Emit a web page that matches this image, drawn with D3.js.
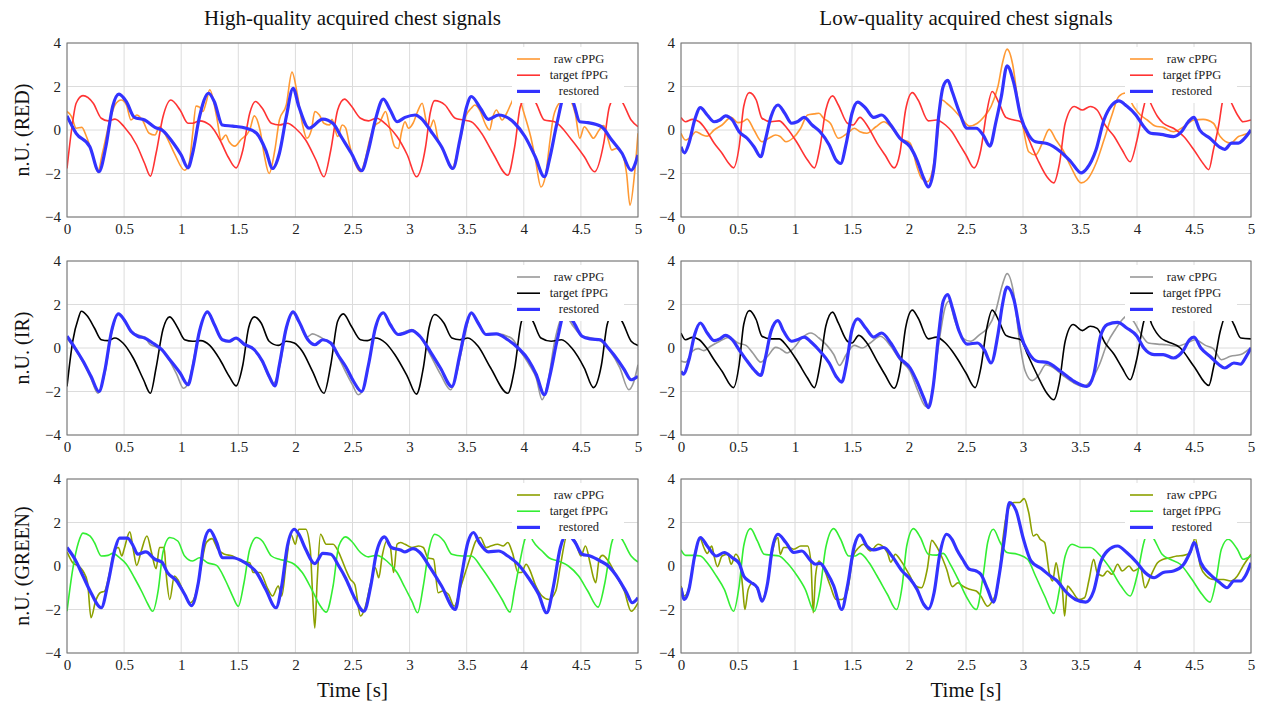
<!DOCTYPE html>
<html>
<head>
<meta charset="utf-8">
<script src="https://cdn.jsdelivr.net/npm/d3@7"></script>
<style>
  body { margin: 0; background: #fff; }
  svg { font-family: "Liberation Serif", "DejaVu Serif", serif; }
</style>
</head>
<body>
<svg id="chart" width="1268" height="705"></svg>
<script>
// titles, labels and ticks
const colTitles = ["High-quality acquired chest signals", "Low-quality acquired chest signals"];
const rowNames = ["n.U. (RED)", "n.U. (IR)", "n.U. (GREEN)"];
const legendLabels = ["raw cPPG", "target fPPG", "restored"];
const xTicks = [0, 0.5, 1, 1.5, 2, 2.5, 3, 3.5, 4, 4.5, 5];
const yTicks = [-4, -2, 0, 2, 4];

// series: [time s, value n.U.]
const redHqRaw = [[0,0.85],[0.04,0.62],[0.08,0.08],[0.13,0.12],[0.17,-0.3],[0.23,-1.23],[0.27,-1.92],[0.31,-1.07],[0.37,0.31],[0.42,1.15],[0.475,1.38],[0.52,1.15],[0.56,0.46],[0.61,0.69],[0.66,0.46],[0.72,-0.15],[0.77,-0.23],[0.81,0.15],[0.87,-0.3],[0.94,-1.07],[1.03,-1.85],[1.07,-1.5],[1.10,-0.2],[1.13,1.1],[1.16,1.05],[1.19,0.85],[1.22,1.3],[1.25,1.85],[1.31,0.62],[1.35,-0.46],[1.39,-0.23],[1.42,-0.54],[1.47,-0.74],[1.52,-0.46],[1.60,0],[1.64,0.65],[1.69,0],[1.73,-1.23],[1.77,-2.0],[1.82,-0.92],[1.86,0.46],[1.92,1.15],[1.97,2.66],[2.02,1.54],[2.06,0.31],[2.10,-0.38],[2.14,0],[2.17,0.85],[2.21,0.69],[2.25,0.31],[2.30,0.23],[2.32,0.49],[2.37,-0.3],[2.41,0.23],[2.44,0.1],[2.47,-0.6],[2.52,-1.5],[2.57,-1.92],[2.61,-1.38],[2.65,-0.46],[2.70,0.23],[2.74,0.38],[2.79,0.85],[2.83,0],[2.87,-0.77],[2.90,-0.85],[2.93,-0.08],[2.96,0.38],[2.99,0.08],[3.03,0.31],[3.07,0.85],[3.11,1.23],[3.15,0.31],[3.18,0.12],[3.21,0.46],[3.25,-0.46],[3.31,-1.07],[3.37,-1.77],[3.43,-0.77],[3.49,0.62],[3.54,1.0],[3.57,1.15],[3.62,0.85],[3.66,0.31],[3.70,0],[3.73,0.62],[3.76,0.92],[3.81,0.46],[3.85,0.77],[3.89,1.23],[3.94,1.7],[4.0,0.8],[4.06,-0.3],[4.10,-1.3],[4.15,-2.62],[4.19,-2.1],[4.23,-0.46],[4.26,0.62],[4.32,1.3],[4.38,1.5],[4.45,0.77],[4.49,-0.38],[4.53,0.15],[4.57,-0.1],[4.61,-0.38],[4.66,0],[4.70,0.2],[4.74,-0.46],[4.77,-0.92],[4.81,-0.85],[4.86,-1.07],[4.90,-2.0],[4.93,-3.46],[4.97,-2.0],[5.0,-0.15]];
const redHqTarget = [[0,-1.77],[0.04,0],[0.08,1.23],[0.14,1.58],[0.23,1.23],[0.30,0.54],[0.36,0.42],[0.42,0.5],[0.50,0.15],[0.61,-0.69],[0.68,-1.54],[0.73,-2.12],[0.78,-1.07],[0.84,0.6],[0.91,1.38],[0.99,0.92],[1.06,0.31],[1.10,0.31],[1.16,0.42],[1.25,0.23],[1.34,-0.46],[1.41,-1.23],[1.48,-1.74],[1.54,-0.92],[1.60,0.77],[1.65,1.31],[1.71,1.0],[1.79,0.31],[1.86,0.23],[1.93,0.31],[2.0,0.08],[2.09,-0.46],[2.18,-1.38],[2.25,-2.15],[2.31,-0.92],[2.37,0.92],[2.43,1.42],[2.49,1.1],[2.57,0.54],[2.64,0.42],[2.71,0.54],[2.80,0.23],[2.89,-0.3],[2.98,-1.15],[3.06,-2.15],[3.14,-0.77],[3.18,0.77],[3.22,1.35],[3.31,1.15],[3.40,0.54],[3.47,0.46],[3.54,0.38],[3.63,-0.15],[3.73,-1.07],[3.86,-2.08],[3.92,-0.77],[3.97,1.08],[4.03,1.55],[4.10,1.3],[4.18,0.46],[4.27,0.38],[4.42,-0.46],[4.53,-1.23],[4.62,-1.92],[4.70,-0.6],[4.75,1.08],[4.80,1.5],[4.86,1.3],[4.94,0.46],[5.0,0.15]];
const redHqRestored = [[0,0.65],[0.08,-0.15],[0.2,-0.77],[0.28,-1.92],[0.34,-0.77],[0.40,1.08],[0.455,1.65],[0.52,1.3],[0.59,0.58],[0.68,0.46],[0.77,0.12],[0.84,-0.03],[0.93,-0.6],[1.0,-1.15],[1.06,-1.74],[1.10,-1.07],[1.16,0.6],[1.24,1.69],[1.29,1.3],[1.36,0.23],[1.45,0.18],[1.57,0.08],[1.66,-0.15],[1.74,-0.92],[1.80,-1.77],[1.86,-1.07],[1.92,0.6],[1.98,1.92],[2.03,1.08],[2.12,0.08],[2.24,0.5],[2.33,0.3],[2.40,-0.3],[2.49,-1.07],[2.58,-1.87],[2.64,-0.92],[2.70,0.46],[2.77,1.42],[2.83,0.92],[2.89,0.38],[2.96,0.58],[3.05,0.69],[3.10,0.54],[3.19,-0.08],[3.28,-0.77],[3.38,-1.77],[3.44,-0.46],[3.50,1.08],[3.54,1.54],[3.62,1.0],[3.69,0.49],[3.78,0.69],[3.92,0.31],[4.01,-0.3],[4.10,-1.23],[4.18,-2.15],[4.23,-1.23],[4.29,0.3],[4.36,1.6],[4.43,1.3],[4.49,0.38],[4.56,0.34],[4.68,0.15],[4.77,-0.46],[4.86,-1.07],[4.94,-1.85],[5.0,-1.15]];

const redLqRaw = [[0,-0.15],[0.04,-0.46],[0.09,-0.3],[0.13,-0.08],[0.19,-0.23],[0.23,-0.28],[0.29,0],[0.36,0.23],[0.44,0.58],[0.50,0.34],[0.54,0.38],[0.58,0.5],[0.64,0],[0.71,-0.54],[0.77,-0.38],[0.83,-0.23],[0.87,-0.3],[0.92,-0.54],[0.98,-0.38],[1.05,0.08],[1.11,0.69],[1.17,0.74],[1.21,0.77],[1.25,0.54],[1.31,0.31],[1.38,-0.38],[1.46,-0.15],[1.52,0.08],[1.57,-0.08],[1.63,-0.15],[1.71,0.15],[1.78,0.38],[1.84,0.15],[1.92,-0.38],[2.01,-0.6],[2.07,-1.69],[2.11,-2.23],[2.16,-2.38],[2.20,-2.0],[2.24,-0.77],[2.29,1.38],[2.33,1.23],[2.38,1.0],[2.46,0.54],[2.53,0.18],[2.60,0.31],[2.66,0.62],[2.72,1.08],[2.78,2.0],[2.82,3.08],[2.86,3.72],[2.91,3.0],[2.95,1.54],[3.0,0.15],[3.05,-1.0],[3.11,-1.15],[3.17,-0.6],[3.23,0.03],[3.29,-0.46],[3.35,-0.92],[3.42,-1.69],[3.51,-2.43],[3.56,-2.3],[3.64,-1.54],[3.71,-0.46],[3.78,0.69],[3.84,1.54],[3.90,1.7],[3.97,1.08],[4.03,0.69],[4.09,0.46],[4.16,0.18],[4.23,0.12],[4.32,-0.08],[4.41,0.15],[4.50,0.46],[4.58,0.49],[4.67,0.31],[4.73,-0.3],[4.82,-0.6],[4.89,-0.3],[4.95,-0.2],[5.0,-0.08]];
const redLqTarget = [[0,0.58],[0.04,0.38],[0.10,0.49],[0.16,0.38],[0.22,0],[0.29,-0.6],[0.36,-1.07],[0.42,-1.54],[0.46,-1.74],[0.51,-0.77],[0.55,1.08],[0.60,1.72],[0.66,1.38],[0.71,0.54],[0.79,0.38],[0.86,0.42],[0.93,0.08],[1.02,-0.6],[1.11,-1.38],[1.17,-1.74],[1.22,-0.77],[1.27,0.92],[1.33,1.57],[1.38,1.15],[1.46,0.31],[1.51,0.23],[1.57,0.58],[1.63,0.23],[1.72,-0.6],[1.79,-1.15],[1.87,-1.74],[1.92,-1.07],[1.97,0.92],[2.03,1.72],[2.08,1.38],[2.17,0.42],[2.24,0.46],[2.32,0.23],[2.38,-0.1],[2.43,-0.54],[2.5,-1.15],[2.57,-1.74],[2.63,-0.92],[2.68,0.77],[2.73,1.77],[2.79,1.23],[2.85,0.58],[2.92,0.46],[2.98,0.38],[3.04,-0.3],[3.13,-1.38],[3.21,-2.15],[3.27,-2.43],[3.32,-1.54],[3.37,0.31],[3.45,1.08],[3.52,0.92],[3.59,1.08],[3.65,0.92],[3.72,0.23],[3.80,-0.3],[3.87,-0.92],[3.94,-1.46],[4.0,-0.46],[4.06,1.08],[4.09,1.6],[4.12,1.23],[4.18,0.62],[4.23,0.31],[4.32,0.08],[4.41,-0.3],[4.50,-0.92],[4.58,-1.54],[4.63,-1.82],[4.67,-0.92],[4.72,0.31],[4.75,1.3],[4.79,1.7],[4.83,1.23],[4.89,0.62],[4.93,0.38],[5.0,0.46]];
const redLqRestored = [[0,-0.77],[0.03,-1.05],[0.07,-0.6],[0.12,0.46],[0.17,1.03],[0.23,0.69],[0.29,0.38],[0.34,0.46],[0.39,0.65],[0.45,0.46],[0.51,-0.08],[0.58,-0.38],[0.64,-0.77],[0.70,-1.23],[0.74,-0.46],[0.79,0.62],[0.85,1.15],[0.91,0.77],[0.97,0.31],[1.02,0.38],[1.08,0.58],[1.15,0.23],[1.22,-0.08],[1.30,-0.69],[1.36,-1.38],[1.40,-1.54],[1.45,-0.6],[1.50,0.77],[1.55,1.28],[1.62,1.0],[1.69,0.58],[1.76,0.69],[1.84,0.23],[1.92,-0.38],[2.01,-0.77],[2.07,-1.38],[2.13,-2.23],[2.17,-2.62],[2.22,-1.69],[2.26,0.62],[2.30,2.0],[2.34,2.28],[2.38,1.75],[2.44,0.85],[2.51,0.08],[2.59,0.08],[2.65,-0.23],[2.71,-0.74],[2.76,0.31],[2.81,1.54],[2.86,2.95],[2.92,2.15],[2.98,0.62],[3.05,-0.23],[3.11,-0.54],[3.21,-0.62],[3.33,-1.0],[3.42,-1.46],[3.51,-1.97],[3.56,-1.77],[3.64,-0.92],[3.71,0.46],[3.78,1.15],[3.84,1.34],[3.91,1.1],[3.99,0.69],[4.06,0.15],[4.12,-0.15],[4.21,-0.2],[4.32,-0.3],[4.39,-0.08],[4.45,0.38],[4.50,0.58],[4.55,0],[4.64,-0.38],[4.72,-0.77],[4.77,-0.89],[4.83,-0.6],[4.89,-0.6],[4.93,-0.46],[5.0,0]];

const irHqRaw = [[0,0.45],[0.07,-0.05],[0.14,-0.65],[0.21,-1.4],[0.27,-2.08],[0.33,-1.2],[0.39,0.7],[0.45,1.55],[0.50,1.3],[0.56,0.75],[0.62,0.6],[0.68,0.5],[0.73,0.15],[0.78,0.05],[0.83,-0.05],[0.90,-0.6],[0.96,-1.2],[1.02,-1.85],[1.07,-1.5],[1.11,-0.5],[1.16,0.8],[1.23,1.62],[1.29,1.05],[1.36,0.4],[1.42,0.28],[1.48,0.42],[1.55,0.15],[1.64,-0.1],[1.71,-0.65],[1.77,-1.35],[1.81,-1.62],[1.86,-0.9],[1.92,0.85],[1.98,1.6],[2.03,1.2],[2.10,0.5],[2.15,0.65],[2.20,0.55],[2.25,0.4],[2.31,0.2],[2.38,-0.45],[2.44,-1.1],[2.50,-1.7],[2.55,-2.15],[2.60,-1.8],[2.64,-0.8],[2.70,0.9],[2.77,1.6],[2.83,1.05],[2.90,0.6],[2.96,0.75],[3.02,0.85],[3.09,0.55],[3.18,-0.3],[3.27,-1.2],[3.36,-1.92],[3.42,-1.0],[3.48,0.5],[3.54,1.58],[3.61,1.1],[3.67,0.6],[3.76,0.65],[3.89,0.46],[3.97,-0.15],[4.05,-0.8],[4.11,-1.4],[4.16,-2.38],[4.21,-1.6],[4.27,0.3],[4.35,1.55],[4.44,0.95],[4.51,0.55],[4.60,0.45],[4.68,0.3],[4.75,-0.1],[4.84,-0.9],[4.92,-1.92],[4.96,-1.6],[5.0,-0.77]];
const irHqTarget = [[0,-1.77],[0.05,0.31],[0.10,1.38],[0.125,1.69],[0.18,1.46],[0.24,0.92],[0.30,0.38],[0.36,0.34],[0.42,0.46],[0.49,0.23],[0.58,-0.46],[0.67,-1.46],[0.73,-2.08],[0.78,-0.92],[0.84,0.85],[0.90,1.43],[0.97,0.92],[1.03,0.38],[1.10,0.31],[1.17,0.34],[1.25,0.12],[1.34,-0.54],[1.42,-1.3],[1.48,-1.74],[1.54,-0.77],[1.59,0.92],[1.64,1.43],[1.70,1.15],[1.77,0.31],[1.85,0.12],[1.92,0.31],[1.99,0.23],[2.06,-0.15],[2.15,-1.07],[2.25,-2.08],[2.31,-0.77],[2.37,1.23],[2.42,1.57],[2.49,1.0],[2.57,0.38],[2.63,0.34],[2.70,0.46],[2.79,0.23],[2.87,-0.3],[2.98,-1.3],[3.06,-2.12],[3.12,-0.92],[3.17,0.92],[3.22,1.54],[3.30,1.15],[3.37,0.46],[3.44,0.38],[3.51,0.46],[3.60,0.08],[3.71,-0.92],[3.86,-2.08],[3.92,-0.92],[3.98,1.23],[4.03,1.6],[4.08,1.23],[4.15,0.46],[4.24,0.31],[4.33,0.38],[4.42,0],[4.53,-0.92],[4.61,-1.82],[4.68,-0.77],[4.73,1.08],[4.78,1.6],[4.86,1.23],[4.94,0.31],[5.0,0.12]];
const irHqRestored = [[0,0.54],[0.07,0],[0.14,-0.6],[0.21,-1.3],[0.28,-2.0],[0.33,-1.07],[0.39,0.77],[0.45,1.57],[0.50,1.3],[0.56,0.77],[0.62,0.54],[0.68,0.46],[0.75,0.23],[0.83,-0.08],[0.90,-0.54],[0.99,-1.15],[1.06,-1.69],[1.10,-0.92],[1.16,0.77],[1.23,1.66],[1.29,1.08],[1.36,0.38],[1.42,0.31],[1.48,0.46],[1.55,0.18],[1.64,-0.08],[1.71,-0.6],[1.77,-1.3],[1.82,-1.74],[1.86,-0.77],[1.92,0.92],[1.98,1.66],[2.03,1.23],[2.11,0.38],[2.17,0.15],[2.24,0.38],[2.31,0.23],[2.38,-0.38],[2.44,-0.85],[2.51,-1.54],[2.58,-2.0],[2.64,-0.77],[2.70,0.92],[2.77,1.62],[2.83,1.08],[2.90,0.62],[2.96,0.69],[3.02,0.8],[3.09,0.54],[3.18,-0.15],[3.27,-0.92],[3.37,-1.77],[3.44,-0.3],[3.50,1.15],[3.54,1.62],[3.60,1.15],[3.67,0.62],[3.76,0.65],[3.86,0.38],[3.95,0],[4.04,-0.54],[4.11,-1.23],[4.18,-2.15],[4.23,-1.23],[4.29,0.31],[4.36,1.6],[4.43,1.23],[4.51,0.54],[4.58,0.42],[4.67,0.38],[4.74,0],[4.83,-0.6],[4.88,-1.0],[4.94,-1.46],[5.0,-1.3]];

const irLqRaw = [[0,-0.6],[0.04,-0.65],[0.10,-0.15],[0.15,-0.03],[0.20,-0.12],[0.26,0.08],[0.34,0.31],[0.42,0.49],[0.50,0.23],[0.57,0.12],[0.63,-0.23],[0.70,-0.65],[0.76,-0.38],[0.83,0.03],[0.87,-0.03],[0.93,-0.23],[0.99,0],[1.06,0.46],[1.14,0.69],[1.21,0.46],[1.28,0.12],[1.34,-0.3],[1.39,-0.8],[1.45,-0.3],[1.52,0.12],[1.59,0],[1.66,0.23],[1.75,0.54],[1.84,0.08],[1.92,-0.54],[2.01,-1.07],[2.08,-2.0],[2.15,-2.7],[2.20,-2.15],[2.26,0.15],[2.32,1.92],[2.35,2.15],[2.40,1.3],[2.47,0.46],[2.54,0.31],[2.62,0.62],[2.69,0.92],[2.76,1.69],[2.82,2.92],[2.86,3.42],[2.92,2.46],[2.97,0.31],[3.02,-1.07],[3.08,-1.5],[3.14,-1.23],[3.20,-0.77],[3.27,-0.92],[3.36,-1.3],[3.45,-1.62],[3.52,-1.77],[3.59,-1.54],[3.67,-0.77],[3.74,0.23],[3.81,0.85],[3.87,1.3],[3.92,1.5],[3.97,1.23],[4.03,0.69],[4.10,0.23],[4.18,0.18],[4.26,0.15],[4.35,0.08],[4.44,0.23],[4.51,0.38],[4.60,0.12],[4.67,-0.03],[4.74,-0.54],[4.82,-0.38],[4.91,-0.3],[5.0,0.03]];
const irLqTarget = [[0,0.69],[0.04,0.38],[0.10,0.49],[0.16,0.38],[0.22,0.03],[0.29,-0.54],[0.36,-1.07],[0.46,-1.82],[0.51,-0.77],[0.55,1.08],[0.60,1.72],[0.66,1.3],[0.71,0.54],[0.79,0.42],[0.86,0.42],[0.93,0.08],[1.02,-0.6],[1.11,-1.38],[1.17,-1.82],[1.22,-0.77],[1.27,1.0],[1.33,1.65],[1.38,1.15],[1.46,0.31],[1.50,0.23],[1.56,0.58],[1.63,0.23],[1.72,-0.6],[1.79,-1.23],[1.87,-1.85],[1.92,-1.07],[1.97,0.92],[2.03,1.74],[2.08,1.38],[2.17,0.42],[2.24,0.5],[2.32,0.23],[2.38,-0.15],[2.43,-0.54],[2.5,-1.15],[2.58,-1.82],[2.63,-0.92],[2.68,0.85],[2.73,1.74],[2.79,1.23],[2.85,0.58],[2.92,0.46],[2.98,0.38],[3.04,-0.3],[3.13,-1.3],[3.21,-2.08],[3.27,-2.38],[3.32,-1.54],[3.37,0.31],[3.44,1.08],[3.52,0.8],[3.59,1.0],[3.65,0.9],[3.72,0.23],[3.80,-0.3],[3.87,-0.92],[3.94,-1.46],[4.0,-0.46],[4.06,1.23],[4.09,1.6],[4.13,1.08],[4.21,0.46],[4.26,0.31],[4.38,0],[4.50,-0.85],[4.63,-1.72],[4.67,-0.92],[4.73,0.77],[4.79,1.6],[4.85,1.08],[4.91,0.46],[5.0,0.42]];
const irLqRestored = [[0,-1.07],[0.02,-1.2],[0.07,-0.54],[0.12,0.62],[0.17,1.15],[0.23,0.69],[0.29,0.34],[0.34,0.42],[0.39,0.58],[0.45,0.38],[0.51,-0.08],[0.58,-0.6],[0.64,-1.0],[0.70,-1.26],[0.74,-0.46],[0.79,0.77],[0.85,1.26],[0.90,0.77],[0.97,0.31],[1.02,0.38],[1.08,0.5],[1.15,0.23],[1.22,-0.15],[1.30,-0.69],[1.36,-1.3],[1.41,-1.57],[1.45,-0.77],[1.50,0.85],[1.55,1.34],[1.62,0.92],[1.69,0.5],[1.76,0.69],[1.84,0.23],[1.92,-0.46],[2.01,-0.92],[2.07,-1.54],[2.13,-2.3],[2.17,-2.74],[2.21,-1.85],[2.26,0.62],[2.30,2.15],[2.34,2.46],[2.38,1.85],[2.44,0.77],[2.51,0.18],[2.60,0.23],[2.66,-0.08],[2.72,-0.69],[2.78,0.62],[2.82,2.0],[2.86,2.8],[2.92,2.23],[2.98,0.62],[3.05,-0.23],[3.13,-0.62],[3.21,-0.66],[3.33,-1.07],[3.45,-1.54],[3.56,-1.77],[3.62,-1.23],[3.68,0.54],[3.74,1.08],[3.83,1.18],[3.91,0.92],[4.0,0.54],[4.06,0],[4.15,-0.3],[4.23,-0.3],[4.32,-0.46],[4.41,-0.08],[4.46,0.38],[4.50,0.5],[4.56,0],[4.64,-0.38],[4.72,-0.77],[4.77,-0.92],[4.85,-0.69],[4.91,-0.74],[4.95,-0.46],[5.0,0]];

const greenHqRaw = [[0,0.65],[0.05,0.15],[0.10,0],[0.14,-0.23],[0.18,-0.77],[0.21,-2.38],[0.25,-1.62],[0.29,-1.23],[0.33,-1.15],[0.37,-0.38],[0.42,0.77],[0.45,0.85],[0.48,0.46],[0.50,0.77],[0.55,1.57],[0.58,0.77],[0.61,0.03],[0.65,0.69],[0.70,1.38],[0.74,0.62],[0.78,-0.12],[0.81,0.85],[0.85,0.85],[0.87,-0.46],[0.90,-1.54],[0.94,-0.46],[0.97,-0.62],[1.03,-1.3],[1.08,-1.69],[1.13,-1.23],[1.17,-0.15],[1.22,1.08],[1.27,1.26],[1.32,0.77],[1.38,0.54],[1.45,0.46],[1.52,0.23],[1.60,0.15],[1.63,-0.3],[1.69,-0.3],[1.76,-1.07],[1.80,-1.38],[1.85,-0.92],[1.88,-1.38],[1.92,0.15],[1.96,1.46],[2.0,1.0],[2.03,1.69],[2.09,1.69],[2.13,0.77],[2.15,-1.23],[2.17,-2.85],[2.19,-0.77],[2.22,1.46],[2.27,1.0],[2.33,1.0],[2.38,0.62],[2.44,-0.15],[2.48,-0.6],[2.52,-0.85],[2.57,-2.3],[2.61,-1.92],[2.66,-0.77],[2.70,-0.08],[2.73,-0.54],[2.76,0.46],[2.80,1.15],[2.83,0.92],[2.86,-0.3],[2.89,1.0],[2.92,1.08],[2.96,1.0],[3.02,0.85],[3.08,0.92],[3.12,0.85],[3.16,0.38],[3.21,0.31],[3.25,-1.23],[3.29,-1.15],[3.34,-1.3],[3.39,-1.85],[3.45,-0.92],[3.53,0.38],[3.58,1.15],[3.62,1.31],[3.67,0.85],[3.71,0.92],[3.77,1.0],[3.82,0.92],[3.86,1.08],[3.90,0.62],[3.95,-0.3],[3.98,-0.3],[4.02,0.08],[4.05,-0.15],[4.10,-0.85],[4.16,-1.38],[4.22,-1.54],[4.28,-1.15],[4.32,0],[4.38,1.4],[4.45,1.15],[4.50,0.46],[4.54,0.92],[4.58,0.15],[4.61,-0.54],[4.63,-0.77],[4.66,0.31],[4.69,0.49],[4.74,0.23],[4.81,-0.46],[4.88,-1.15],[4.94,-2.08],[5.0,-1.69]];
const greenHqTarget = [[0,-2.08],[0.05,-0.15],[0.10,1.08],[0.14,1.51],[0.20,1.38],[0.24,1.08],[0.30,0.46],[0.36,0.49],[0.40,0.58],[0.46,0.38],[0.52,0.08],[0.59,-0.54],[0.66,-1.23],[0.71,-1.77],[0.75,-2.08],[0.80,-1.07],[0.84,0.62],[0.90,1.31],[0.97,1.15],[1.03,0.46],[1.10,0.23],[1.16,0.38],[1.23,0.15],[1.31,0.03],[1.39,-0.69],[1.45,-1.38],[1.50,-1.85],[1.55,-0.77],[1.60,0.77],[1.66,1.31],[1.71,1.15],[1.79,0.46],[1.86,0.31],[1.92,0.23],[1.99,0.08],[2.06,-0.3],[2.15,-1.15],[2.22,-1.85],[2.27,-2.12],[2.33,-0.92],[2.38,0.92],[2.44,1.34],[2.49,1.15],[2.57,0.62],[2.64,0.42],[2.71,0.49],[2.80,0.23],[2.89,-0.3],[2.96,-1.0],[3.02,-1.62],[3.07,-2.15],[3.12,-0.92],[3.17,0.77],[3.22,1.46],[3.30,1.15],[3.37,0.54],[3.46,0.46],[3.54,0.46],[3.63,-0.08],[3.72,-0.77],[3.81,-1.54],[3.88,-2.12],[3.92,-1.07],[3.97,0.31],[4.01,1.23],[4.05,1.5],[4.08,1.15],[4.16,0.69],[4.22,0.38],[4.30,0.23],[4.39,0],[4.48,-0.46],[4.56,-1.15],[4.65,-1.89],[4.71,-0.77],[4.77,1.08],[4.81,1.5],[4.86,1.23],[4.94,0.46],[5.0,0.18]];
const greenHqRestored = [[0,0.85],[0.07,0.31],[0.14,-0.46],[0.21,-1.23],[0.30,-1.92],[0.36,-0.77],[0.42,0.77],[0.46,1.28],[0.53,1.28],[0.58,0.92],[0.62,0.54],[0.69,0.65],[0.77,0.31],[0.83,0.18],[0.88,-0.3],[0.96,-0.69],[1.03,-1.3],[1.09,-1.82],[1.15,-0.77],[1.20,1.08],[1.25,1.65],[1.31,1.08],[1.36,0.38],[1.45,0.38],[1.55,0.18],[1.66,-0.3],[1.74,-1.07],[1.83,-1.92],[1.88,-0.92],[1.93,0.92],[1.99,1.69],[2.03,1.46],[2.09,0.77],[2.17,0.11],[2.24,0.58],[2.31,0.54],[2.38,0],[2.44,-0.56],[2.51,-1.38],[2.60,-2.08],[2.66,-0.92],[2.71,0.62],[2.78,1.34],[2.84,0.85],[2.92,0.74],[2.96,0.65],[3.03,0.8],[3.09,0.62],[3.18,-0.08],[3.28,-0.92],[3.40,-2.0],[3.45,-0.6],[3.51,1.08],[3.56,1.54],[3.61,1.08],[3.69,0.65],[3.78,0.69],[3.86,0.46],[3.95,0.08],[4.04,-0.54],[4.13,-1.3],[4.20,-2.15],[4.26,-0.92],[4.32,0.85],[4.38,1.45],[4.45,1.08],[4.51,0.54],[4.58,0.46],[4.67,0.23],[4.74,0],[4.83,-0.6],[4.90,-1.23],[4.95,-1.69],[5.0,-1.46]];

const greenLqRaw = [[0,-0.92],[0.03,-1.38],[0.08,-0.77],[0.12,0.54],[0.17,1.23],[0.20,0.85],[0.23,0.58],[0.27,0.92],[0.29,0.46],[0.32,-0.03],[0.36,0.46],[0.41,0.54],[0.44,0.08],[0.48,0.54],[0.51,0.31],[0.54,-0.92],[0.56,-2.0],[0.59,-1.07],[0.63,-0.77],[0.67,-1.07],[0.71,-1.54],[0.76,-0.77],[0.80,0.62],[0.85,1.31],[0.87,0.54],[0.90,0.85],[0.95,0.85],[0.99,0.77],[1.05,0.92],[1.11,0.92],[1.14,0.15],[1.16,-2.15],[1.18,-0.46],[1.21,0.23],[1.25,-0.08],[1.31,-0.92],[1.36,-1.54],[1.41,-1.54],[1.46,-1.15],[1.51,0.46],[1.56,0.85],[1.60,1.0],[1.66,0.69],[1.73,1.0],[1.81,0.62],[1.84,0.18],[1.88,0.54],[1.92,0.31],[2.0,-0.38],[2.06,-0.92],[2.11,-1.0],[2.16,-0.15],[2.20,1.18],[2.23,1.0],[2.27,0.62],[2.33,-0.15],[2.38,-0.95],[2.43,-0.77],[2.47,-0.92],[2.53,-1.07],[2.59,-1.15],[2.63,-1.38],[2.69,-1.85],[2.73,-1.62],[2.78,-0.92],[2.82,1.08],[2.86,2.46],[2.92,2.92],[2.97,2.92],[3.01,3.1],[3.05,2.46],[3.09,1.38],[3.12,1.46],[3.15,1.23],[3.19,1.08],[3.23,-0.3],[3.26,-0.69],[3.29,0.15],[3.32,-0.62],[3.345,-1.07],[3.365,-2.3],[3.39,-0.92],[3.43,-1.15],[3.49,-1.54],[3.54,-1.46],[3.58,-0.62],[3.62,0.31],[3.65,-0.3],[3.70,-0.46],[3.74,-0.23],[3.78,-0.38],[3.83,0.08],[3.87,-0.23],[3.93,0],[3.97,-0.23],[4.03,-0.08],[4.07,-1.0],[4.12,-0.46],[4.18,0.15],[4.23,0.31],[4.29,0.38],[4.35,0.46],[4.41,0.49],[4.47,0.62],[4.51,1.3],[4.555,0],[4.61,-0.46],[4.67,-0.62],[4.76,-0.62],[4.82,-0.69],[4.88,-0.46],[4.93,0],[5.0,0.54]];
const greenLqTarget = [[0,0.74],[0.04,0.49],[0.12,0.49],[0.17,0.46],[0.23,0.15],[0.31,-0.46],[0.38,-1.07],[0.46,-2.08],[0.51,-0.92],[0.55,0.92],[0.61,1.72],[0.67,1.15],[0.73,0.54],[0.79,0.5],[0.86,0.46],[0.93,0.15],[1.02,-0.46],[1.09,-1.07],[1.17,-2.08],[1.22,-1.07],[1.27,0.85],[1.34,1.72],[1.40,1.23],[1.47,0.46],[1.53,0.46],[1.57,0.58],[1.65,0.15],[1.72,-0.46],[1.81,-1.3],[1.89,-2.0],[1.94,-0.92],[1.98,0.92],[2.04,1.72],[2.10,1.31],[2.17,0.54],[2.24,0.5],[2.30,0.58],[2.36,0.1],[2.43,-0.6],[2.5,-1.38],[2.59,-2.0],[2.65,-0.46],[2.69,1.08],[2.74,1.69],[2.80,1.08],[2.86,0.62],[2.95,0.54],[3.04,0.31],[3.11,-0.46],[3.19,-1.38],[3.27,-2.18],[3.32,-1.07],[3.37,0.46],[3.43,1.0],[3.51,0.85],[3.59,0.85],[3.68,0.46],[3.77,-0.15],[3.86,-0.92],[3.94,-1.38],[4.0,-0.46],[4.06,1.08],[4.10,1.6],[4.15,1.23],[4.22,0.54],[4.29,0.31],[4.38,0.08],[4.48,-0.6],[4.57,-1.3],[4.64,-1.66],[4.69,-0.77],[4.74,0.77],[4.80,1.23],[4.88,0.77],[4.93,0.31],[5.0,0.46]];
const greenLqRestored = [[0,-1.0],[0.03,-1.54],[0.07,-1.07],[0.12,0.46],[0.17,1.31],[0.23,0.92],[0.31,0.46],[0.38,0.62],[0.45,0.38],[0.51,0.12],[0.55,-0.46],[0.61,-0.74],[0.67,-1.0],[0.71,-1.62],[0.76,-0.77],[0.80,0.77],[0.85,1.46],[0.92,1.08],[0.99,0.62],[1.06,0.69],[1.14,0.23],[1.18,0.08],[1.22,0.12],[1.28,-0.3],[1.34,-0.92],[1.41,-2.0],[1.46,-0.92],[1.52,0.92],[1.57,1.43],[1.63,0.92],[1.69,0.74],[1.78,0.85],[1.85,0.46],[1.94,-0.23],[2.01,-0.6],[2.07,-1.07],[2.13,-1.77],[2.17,-1.97],[2.22,-1.23],[2.27,0.54],[2.33,1.46],[2.38,1.2],[2.42,0.75],[2.47,0.31],[2.53,-0.15],[2.59,-0.23],[2.63,-0.38],[2.69,-1.07],[2.74,-1.66],[2.79,-0.46],[2.84,1.38],[2.88,2.92],[2.94,2.54],[3.0,1.31],[3.07,0.23],[3.16,-0.12],[3.24,-0.46],[3.30,-0.69],[3.37,-1.15],[3.46,-1.54],[3.55,-1.66],[3.62,-1.15],[3.68,0.15],[3.74,0.69],[3.83,0.92],[3.91,0.62],[4.0,0.15],[4.07,-0.3],[4.15,-0.54],[4.23,-0.3],[4.32,-0.23],[4.41,0.08],[4.47,0.69],[4.50,1.08],[4.56,0.15],[4.64,-0.38],[4.72,-0.74],[4.79,-1.0],[4.85,-0.69],[4.91,-0.69],[4.95,-0.46],[5.0,0.15]];

const svg = d3.select("#chart");

// panel frames (pixel boxes)
const colX = [[67, 638], [681, 1251]];
const rowY = [[43, 217], [261, 435], [479, 653]];

const rawColors = ["#ff9933", "#999999", "#8ca000"];
const targetColors = ["#ff3333", "#000000", "#33ee33"];
const restoredColor = "#3333ff";

const panels = [
  {row: 0, col: 0, raw: redHqRaw, target: redHqTarget, restored: redHqRestored},
  {row: 0, col: 1, raw: redLqRaw, target: redLqTarget, restored: redLqRestored},
  {row: 1, col: 0, raw: irHqRaw, target: irHqTarget, restored: irHqRestored},
  {row: 1, col: 1, raw: irLqRaw, target: irLqTarget, restored: irLqRestored},
  {row: 2, col: 0, raw: greenHqRaw, target: greenHqTarget, restored: greenHqRestored},
  {row: 2, col: 1, raw: greenLqRaw, target: greenLqTarget, restored: greenLqRestored}
];

const fmt = d3.format("~g");

panels.forEach((p, i) => {
  const [x0, x1] = colX[p.col];
  const [y0, y1] = rowY[p.row];
  const x = d3.scaleLinear().domain([0, 5]).range([x0, x1]);
  const y = d3.scaleLinear().domain([-4, 4]).range([y1, y0]);

  const g = svg.append("g");

  svg.append("clipPath").attr("id", "clip" + i)
    .append("rect").attr("x", x0).attr("y", y0).attr("width", x1 - x0).attr("height", y1 - y0);

  // grid
  g.append("g").selectAll("line").data(xTicks).enter().append("line")
    .attr("x1", d => x(d)).attr("x2", d => x(d)).attr("y1", y0).attr("y2", y1)
    .attr("stroke", "#dcdcdc").attr("stroke-width", 1);
  g.append("g").selectAll("line").data(yTicks).enter().append("line")
    .attr("x1", x0).attr("x2", x1).attr("y1", d => y(d)).attr("y2", d => y(d))
    .attr("stroke", "#dcdcdc").attr("stroke-width", 1);

  // axes (labels only)
  const ax = g.append("g").attr("transform", `translate(0,${y1})`)
    .call(d3.axisBottom(x).tickValues(xTicks).tickFormat(fmt).tickSize(0).tickPadding(6));
  const ay = g.append("g").attr("transform", `translate(${x0},0)`)
    .call(d3.axisLeft(y).tickValues(yTicks).tickFormat(fmt).tickSize(0).tickPadding(6));
  [ax, ay].forEach(a => {
    a.select(".domain").remove();
    a.selectAll("text").attr("font-size", 15).attr("fill", "#222")
      .attr("font-family", "Liberation Serif, DejaVu Serif, serif");
  });

  const line = d3.line().x(d => x(d[0])).y(d => y(d[1])).curve(d3.curveMonotoneX);
  const lines = g.append("g").attr("clip-path", `url(#clip${i})`);
  lines.append("path").datum(p.raw).attr("d", line)
    .attr("fill", "none").attr("stroke", rawColors[p.row]).attr("stroke-width", 1.6);
  lines.append("path").datum(p.target).attr("d", line)
    .attr("fill", "none").attr("stroke", targetColors[p.row]).attr("stroke-width", 1.6);
  lines.append("path").datum(p.restored).attr("d", line)
    .attr("fill", "none").attr("stroke", restoredColor).attr("stroke-width", 3.2)
    .attr("stroke-linejoin", "round");

  // frame
  g.append("rect").attr("x", x0).attr("y", y0).attr("width", x1 - x0).attr("height", y1 - y0)
    .attr("fill", "none").attr("stroke", "#707070").attr("stroke-width", 1);

  // legend
  const lg = g.append("g");
  lg.append("rect").attr("x", x1 - 126).attr("y", y0 + 4).attr("width", 112).attr("height", 56)
    .attr("fill", "#fff");
  const legendColors = [rawColors[p.row], targetColors[p.row], restoredColor];
  legendLabels.forEach((lab, k) => {
    const ly = y0 + 16 + k * 16.2;
    lg.append("line").attr("x1", x1 - 121).attr("x2", x1 - 98).attr("y1", ly).attr("y2", ly)
      .attr("stroke", legendColors[k]).attr("stroke-width", k === 2 ? 3.2 : 1.6);
    lg.append("text").attr("x", x1 - 59).attr("y", ly).attr("dy", "0.32em")
      .attr("text-anchor", "middle").attr("font-size", 12.5).attr("fill", "#222").text(lab);
  });
});

// column titles
colTitles.forEach((t, c) => {
  svg.append("text").attr("x", (colX[c][0] + colX[c][1]) / 2).attr("y", 25)
    .attr("text-anchor", "middle").attr("font-size", 21).attr("fill", "#111").text(t);
  svg.append("text").attr("x", (colX[c][0] + colX[c][1]) / 2).attr("y", 697)
    .attr("text-anchor", "middle").attr("font-size", 21).attr("fill", "#111").text("Time [s]");
});

// row labels
rowNames.forEach((t, r) => {
  const cy = (rowY[r][0] + rowY[r][1]) / 2;
  svg.append("text").attr("transform", `translate(29,${cy}) rotate(-90)`)
    .attr("text-anchor", "middle").attr("font-size", 20).attr("fill", "#111").text(t);
});
</script>
</body>
</html>
